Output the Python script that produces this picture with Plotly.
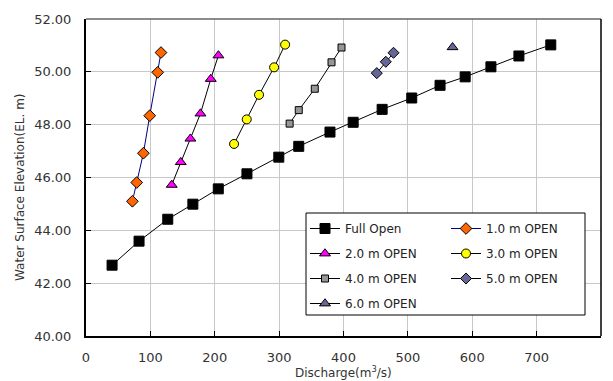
import plotly.graph_objects as go

# ---- data ----
full_q = [40.5, 82.4, 127, 166, 205.5, 250, 299.5, 330.5, 379, 415, 460, 506, 550, 589, 629, 672.5, 722]
full_h = [42.68, 43.59, 44.42, 44.99, 45.57, 46.14, 46.77, 47.18, 47.72, 48.09, 48.58, 49.01, 49.49, 49.81, 50.19, 50.60, 51.02]

o1_q = [72.1, 78.8, 89.2, 99.0, 111.4, 116.5]
o1_h = [45.10, 45.81, 46.92, 48.34, 49.98, 50.73]

o2_q = [133.2, 147.2, 162.2, 177.8, 193.8, 205.7]
o2_h = [45.72, 46.58, 47.47, 48.42, 49.73, 50.62]

o3_q = [230.0, 249.7, 268.8, 292.2, 309.3]
o3_h = [47.27, 48.20, 49.13, 50.17, 51.03]

o4_q = [316.3, 330.5, 355.4, 381.4, 396.9]
o4_h = [48.04, 48.55, 49.36, 50.36, 50.92]

o5_q = [451.7, 465.7, 477.7]
o5_h = [49.95, 50.38, 50.72]

o6_q = [569.4]
o6_h = [50.93]

x_ticks = [0, 100, 200, 300, 400, 500, 600, 700, 800]
y_ticks = [40, 42, 44, 46, 48, 50, 52]

FONT = "DejaVu Sans"
fig = go.Figure()

def add(name, q, h, symbol, size, fill, line_color, legend):
    fig.add_trace(go.Scatter(
        x=q, y=h, mode="lines+markers", name=name, legend=legend,
        legendgroup=name,
        line=dict(color=line_color, width=1),
        marker=dict(symbol=symbol, size=size, color=fill,
                    line=dict(color="black", width=1)),
    ))

add("Full Open", full_q, full_h, "square", 10, "black", "black", "legend")
add("2.0 m OPEN", o2_q, o2_h, "triangle-up", 9.5, "#FF00FF", "black", "legend")
add("4.0 m OPEN", o4_q, o4_h, "square", 7, "#969696", "black", "legend")
add("6.0 m OPEN", o6_q, o6_h, "triangle-up", 9.5, "#666699", "black", "legend")
add("1.0 m OPEN", o1_q, o1_h, "diamond", 9, "#FF6600", "#000080", "legend2")
add("3.0 m OPEN", o3_q, o3_h, "circle", 9, "#FFFF00", "black", "legend2")
add("5.0 m OPEN", o5_q, o5_h, "diamond", 8.5, "#666699", "black", "legend2")

L, R, T, B = 86, 12, 19, 45
W, H = 613, 381
pw = W - L - R
ph = H - T - B

def px(xp):
    return (xp - L) / pw

def py(yp):
    return 1 - (yp - T) / ph

leg_common = dict(
    bgcolor="rgba(0,0,0,0)", borderwidth=0, itemwidth=30,
    font=dict(family=FONT, size=12, color="#222"),
    tracegroupgap=6, xanchor="left", yanchor="top", orientation="v",
    itemclick=False, itemdoubleclick=False,
)

fig.update_layout(
    width=W, height=H,
    margin=dict(l=L, r=R, t=T, b=B),
    paper_bgcolor="white", plot_bgcolor="white",
    font=dict(family=FONT, size=13, color="#333"),
    showlegend=True,
    legend=dict(x=px(305), y=py(214), **leg_common),
    legend2=dict(x=px(446), y=py(214), **leg_common),
    xaxis=dict(
        range=[0, 800], tickvals=x_ticks, ticktext=[str(v) for v in x_ticks],
        showgrid=True, gridcolor="#C8C8C8", gridwidth=1,
        showline=True, linecolor="black", linewidth=2,
        ticks="inside", ticklen=5, tickcolor="black",
        ticklabelstandoff=8, zeroline=False,
        tickfont=dict(family=FONT, size=13, color="#333"),
    ),
    yaxis=dict(
        range=[40, 52], tickvals=y_ticks, ticktext=[f"{v:.2f}" for v in y_ticks],
        showgrid=True, gridcolor="#C8C8C8", gridwidth=1,
        showline=True, linecolor="black", linewidth=2,
        ticks="inside", ticklen=5, tickcolor="black",
        ticklabelstandoff=10, zeroline=False,
        tickfont=dict(family=FONT, size=13, color="#333"),
    ),
    shapes=[
        dict(type="line", xref="paper", yref="paper", x0=0, x1=1, y0=1, y1=1,
             line=dict(color="#666", width=1.5), layer="above"),
        dict(type="line", xref="paper", yref="paper", x0=1, x1=1, y0=0, y1=1,
             line=dict(color="black", width=1.5), layer="above"),
        dict(type="rect", xref="paper", yref="paper",
             x0=px(306), x1=px(585), y0=py(315), y1=py(213),
             fillcolor="white", line=dict(color="black", width=1), layer="above"),
    ],
    annotations=[
        dict(text="Discharge(m<sup>3</sup>/s)", xref="paper", yref="paper",
             x=0.5, y=py(372), xanchor="center", yanchor="middle", showarrow=False,
             font=dict(family=FONT, size=12, color="#333")),
        dict(text="Water Surface Elevation(EL. m)", xref="paper", yref="paper",
             x=px(20), y=py(187), xanchor="center", yanchor="middle", showarrow=False,
             textangle=-90, font=dict(family=FONT, size=12, color="#333")),
    ],
)

fig.write_html("out.html")
